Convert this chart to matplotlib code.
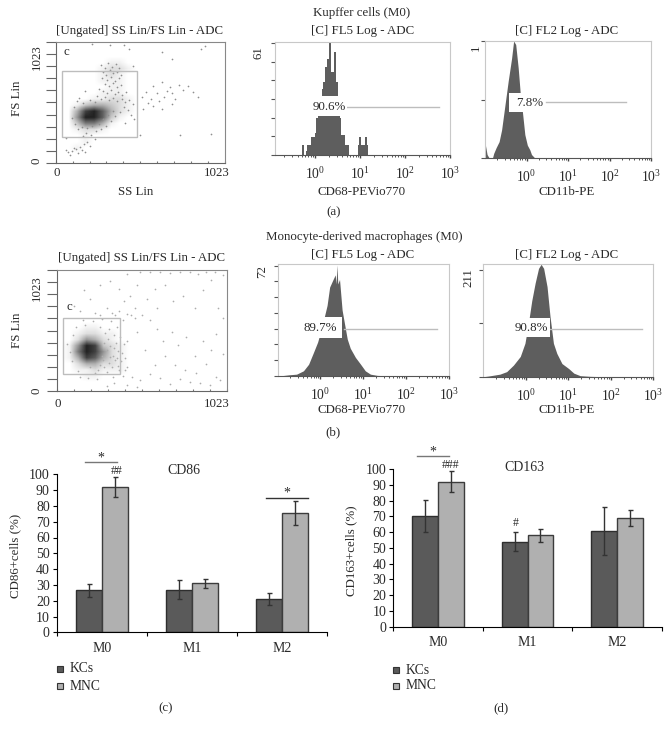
import matplotlib
matplotlib.use("Agg")
import matplotlib.pyplot as plt
from matplotlib.patches import Rectangle
from matplotlib.ticker import LogLocator, NullFormatter
import numpy as np

plt.rcParams['font.family'] = ['Liberation Serif', 'DejaVu Serif']
plt.rcParams['mathtext.fontset'] = 'stix'

W = 670
H = 734

# dot plots: density read per cell (bottom row first, 20 x 20 cells over 0-1023)
kc_density = [
    [0,0,0,0,0,0,0,0,0,0,0,0,0,0,0,0,0,0,0,0],
    [0,0,0,0,0,0,0,0,0,0,0,0,0,0,0,0,0,0,0,0],
    [0,0,1,0,0,0,0,0,0,0,0,0,0,0,0,0,0,0,0,0],
    [0,0,0,1,0,0,0,0,0,0,0,0,0,0,0,0,0,0,0,0],
    [0,0,0,1,0,0,0,0,0,0,0,0,0,0,0,0,0,0,0,0],
    [0,0,1,2,2,1,0,0,0,0,0,0,0,0,0,0,0,0,0,0],
    [0,0,3,6,6,4,1,0,0,0,0,0,0,0,0,0,0,0,0,0],
    [0,0,5,9,9,7,3,1,0,0,0,0,0,0,0,0,0,0,0,0],
    [0,0,4,8,9,7,4,2,1,0,0,0,0,0,0,0,0,0,0,0],
    [0,0,1,3,4,4,3,2,1,0,0,0,0,0,0,0,0,0,0,0],
    [0,0,0,0,1,1,2,2,1,0,0,0,0,0,0,0,0,0,0,0],
    [0,0,0,0,0,1,1,1,0,0,0,0,0,0,0,0,0,0,0,0],
    [0,0,0,0,0,0,1,1,0,0,0,0,0,0,0,0,0,0,0,0],
    [0,0,0,0,0,1,1,1,0,0,0,0,0,0,0,0,0,0,0,0],
    [0,0,0,0,0,1,2,1,0,0,0,0,0,0,0,0,0,0,0,0],
    [0,0,0,0,0,1,2,2,1,0,0,0,0,0,0,0,0,0,0,0],
    [0,0,0,0,0,0,1,1,0,0,0,0,0,0,0,0,0,0,0,0],
    [0,0,0,0,0,0,0,0,0,0,0,0,0,0,0,0,0,0,0,0],
    [0,0,0,0,0,0,0,0,0,0,0,0,0,0,0,0,0,0,0,0],
    [0,0,0,0,0,0,0,0,0,0,0,0,0,0,0,0,0,0,0,0],
]
mono_density = [
    [0,0,0,0,0,0,0,0,0,0,0,0,0,0,0,0,0,0,0,0],
    [0,0,0,0,0,0,0,0,0,0,0,0,0,0,0,0,0,0,0,0],
    [0,0,0,1,1,0,0,0,0,0,0,0,0,0,0,0,0,0,0,0],
    [0,0,1,1,2,1,1,1,0,0,0,0,0,0,0,0,0,0,0,0],
    [0,0,2,4,4,2,2,1,0,0,0,0,0,0,0,0,0,0,0,0],
    [0,1,4,8,7,4,2,1,0,0,0,0,0,0,0,0,0,0,0,0],
    [0,1,6,9,8,5,2,1,0,0,0,0,0,0,0,0,0,0,0,0],
    [0,1,5,9,8,3,2,1,0,0,0,0,0,0,0,0,0,0,0,0],
    [0,0,2,5,4,2,1,0,0,0,0,0,0,0,0,0,0,0,0,0],
    [0,0,1,2,2,1,1,0,0,0,0,0,0,0,0,0,0,0,0,0],
    [0,0,0,1,1,0,0,0,0,0,0,0,0,0,0,0,0,0,0,0],
    [0,0,0,0,0,0,0,0,0,0,0,0,0,0,0,0,0,0,0,0],
    [0,0,0,0,0,0,0,0,0,0,0,0,0,0,0,0,0,0,0,0],
    [0,0,0,0,0,0,0,0,0,0,0,0,0,0,0,0,0,0,0,0],
    [0,0,0,0,0,0,0,0,0,0,0,0,0,0,0,0,0,0,0,0],
    [0,0,0,0,0,0,0,0,0,0,0,0,0,0,0,0,0,0,0,0],
    [0,0,0,0,0,0,0,0,0,0,0,0,0,0,0,0,0,0,0,0],
    [0,0,0,0,0,0,0,0,0,0,0,0,0,0,0,0,0,0,0,0],
    [0,0,0,0,0,0,0,0,0,0,0,0,0,0,0,0,0,0,0,0],
    [0,0,0,0,0,0,0,0,0,0,0,0,0,0,0,0,0,0,0,0],
]

# single events seen outside the dense part
kc_events = [
    (275,830),(296,802),(318,846),(341,812),(362,835),(384,798),(288,770),(305,742),(327,781),(349,756),
    (371,772),(392,745),(280,715),(312,702),(336,728),(358,695),(381,718),(299,668),(322,651),(346,676),
    (368,642),(395,660),(262,622),(288,606),(311,592),(337,618),(356,584),(379,604),(402,573),(425,598),
    (248,566),(271,545),(296,558),(324,533),(349,549),(372,524),(398,541),(421,515),(445,536),(468,498),
    (412,470),(436,452),(389,428),(452,405),(476,372),(418,338),(361,395),(336,352),(304,318),(276,291),
    (246,268),(212,240),(186,258),(163,226),(238,204),(192,182),(170,160),(206,146),(148,134),(122,118),
    (96,102),(74,92),(60,108),(134,86),(158,112),(108,128),(88,74),(178,96),(520,560),(545,600),
    (560,510),(590,650),(610,590),(625,520),(640,680),(655,560),(670,610),(690,640),(705,590),(720,540),
    (745,660),(770,620),(800,650),(830,600),(860,560),(590,480),(640,455),(700,500),(530,455),(575,545),
    (905,990),(880,960),(940,250),(750,240),(640,940),(700,880),(470,820),(440,960),(415,995),(330,995),
    (220,1000),(510,240),(180,610),(60,210),(130,520),(112,470),(142,548),(165,505),(238,512),(210,535),
    (118,330),(135,288),(160,305),(190,296),(100,380),(222,310),(262,330),(288,372),(314,410),(345,440),
]
mono_events = [
    (60,400),(75,330),(88,250),(96,470),(112,540),(128,170),(140,120),(155,600),(170,560),(185,110),
    (198,205),(214,590),(228,150),(240,100),(256,545),(270,610),(285,205),(298,160),(310,520),(322,590),
    (335,115),(345,470),(360,540),(372,180),(385,250),(395,130),(305,440),(320,380),(338,300),(352,410),
    (366,340),(378,460),(290,490),(275,260),(260,220),(245,175),(312,240),(330,205),(350,260),(368,215),
    (300,350),(285,410),(268,300),(318,290),(342,360),(362,280),(392,320),(402,400),(410,280),(418,200),
    (395,600),(420,650),(445,640),(470,620),(330,660),(350,640),(375,680),(300,700),(260,640),(230,660),
    (400,760),(440,800),(470,700),(510,640),(560,600),(600,520),(640,420),(690,500),(730,390),(780,460),
    (830,300),(880,420),(930,350),(960,480),(1000,310),(420,420),(480,500),(530,350),(590,220),(650,300),
    (710,220),(770,180),(840,150),(900,230),(960,120),(410,180),(450,120),(500,90),(560,140),(620,110),
    (680,60),(740,100),(800,80),(860,70),(920,50),(980,90),(300,40),(340,70),(420,50),(480,30),
    (700,760),(760,800),(830,700),(880,850),(930,940),(970,700),(1000,620),(650,900),(590,860),(540,780),
    (480,900),(420,990),(500,1005),(560,1010),(620,1005),(680,995),(740,1010),(800,1005),(850,990),(900,1008),
    (950,1010),(1000,980),(160,850),(200,780),(260,900),(320,930),(370,860),(100,720),(140,680),(600,700),
]
kc_gate_x = [36, 489]
kc_gate_y = [222, 776]
mono_gate_x = [36, 381]
mono_gate_y = [144, 620]

# histograms (log10 of the signal, event count)
kc_fl5_log = [-.32,-.28,-.24,-.20,-.16,-.12,-.08,-.04,0,.04,.08,.12,.16,.20,.24,.28,.32,.36,.40,.44,.48,.52,.56,.60,.64,.68,.72,.76,.80,.84,.88,.92,.96,1.0,1.04,1.08,1.12,1.16,1.20]
kc_fl5_cnt = [0,5.4,0,2,5.4,5.4,10,10,12,20,28,32,36,40,48,52,61,45,45,56,40,32,20,11,11,5.4,5.4,0,0,0,0,0,5.4,10,5.4,5.4,10,5.4,0]
kc_fl2_log = [-1.0,-.99,-.95,-.90,-.82,-.79,-.73,-.66,-.60,-.52,-.44,-.36,-.31,-.26,-.20,-.15,-.10,-.04,.02,.08,.12,.20]
kc_fl2_cnt = [0,.11,.03,0,0,.04,.09,.14,.24,.45,.66,.85,1.0,.97,.77,.55,.40,.20,.11,.07,.03,0]
mono_fl5_log = [-.90,-.72,-.55,-.39,-.27,-.16,-.06,.04,.16,.22,.30,.35,.37,.39,.41,.45,.51,.56,.63,.70,.82,.94,1.05,1.17,1.33,1.5]
mono_fl5_cnt = [0,.6,1,3.2,7.5,15,22,32,46,58,63,66,60,72.5,60,63,43,35,24,18,12,7.5,3.2,1,.2,0]
mono_fl2_log = [-1.0,-.88,-.61,-.45,-.29,-.13,-.02,.06,.14,.22,.30,.36,.42,.50,.57,.65,.73,.85,1.01,1.13,1.28,1.52,1.8]
mono_fl2_cnt = [0,1.3,5,10,23,40,66,105,150,185,214,222,214,178,119,66,46,26,16,7,2,.7,0]

# bar charts
groups = ["M0", "M1", "M2"]
cd86_kc = [26.5, 27, 21]
cd86_mnc = [92, 31, 75.5]
cd86_kc_err = [4.2, 6, 3.7]
cd86_mnc_err = [6.5, 2.8, 7.3]
cd163_kc = [70.3, 54, 60.5]
cd163_mnc = [92, 58, 69]
cd163_kc_err = [10, 6, 15.2]
cd163_mnc_err = [6.5, 4.2, 4.9]

DARK = '#5a5a5a'
LIGHT = '#b0b0b0'
TXT = '#2a2a2a'
FS = 9.3

fig = plt.figure(figsize=(W / 100, H / 100), dpi=100)


def ax_px(l, t, r, b):
    return fig.add_axes([l / W, 1 - b / H, (r - l) / W, (b - t) / H])


def txt(x, y, s, size=FS, rot=0):
    fig.text(x / W, 1 - y / H, s, ha='center', va='center', fontsize=size,
             rotation=rot, color=TXT, zorder=6)


def dot_plot(box, density, events, gate_x, gate_y, dot_color):
    ax = ax_px(*box)
    ax.imshow(np.array(density) ** 1.25, origin='lower', extent=[0, 1023, 0, 1023], aspect='auto',
              cmap='gray_r', vmin=0, vmax=18, interpolation='bilinear')
    ss, fs = zip(*events)
    ax.scatter(ss, fs, s=1.5, color=dot_color, linewidths=0)
    ax.add_patch(Rectangle((gate_x[0], gate_y[0]), gate_x[1] - gate_x[0], gate_y[1] - gate_y[0],
                           fill=False, ec='#bdbdbd', lw=1))
    ax.set_xlim(0, 1023)
    ax.set_ylim(0, 1023)
    ticks = [i * 102.3 for i in range(11)]
    ax.set_xticks(ticks)
    ax.set_yticks(ticks)
    ax.set_xticklabels([])
    ax.set_yticklabels([])
    ax.tick_params(axis='y', length=7, width=.8, color='#666666')
    ax.tick_params(axis='x', direction='in', length=1.5, width=.8, color='#777777')
    for s in ['left', 'bottom']:
        ax.spines[s].set_color('#666666')
    for s in ['top', 'right']:
        ax.spines[s].set_color('#888888')
    return ax


def hist_plot(box, log_vals, counts, ymax, yticks, gate_log, gate_y, xleft, step=None):
    ax = ax_px(*box)
    ax.fill_between([10 ** v for v in log_vals], counts, 0, color='#5e5e5e', lw=0, step=step)
    ax.plot([10 ** gate_log[0], 10 ** gate_log[1]], [gate_y, gate_y], color='#bdbdbd', lw=1)
    ax.set_xscale('log')
    ax.set_xlim(10 ** xleft, 1000)
    ax.set_ylim(0, ymax)
    ax.set_xticks([1, 10, 100, 1000])
    ax.xaxis.set_minor_locator(LogLocator(base=10, subs=range(2, 10), numticks=12))
    ax.xaxis.set_minor_formatter(NullFormatter())
    ax.set_yticks(yticks)
    ax.set_yticklabels([])
    ax.tick_params(axis='x', which='major', length=2, width=1, color='#444444', labelsize=FS + .5,
                   labelcolor=TXT, pad=6)
    ax.tick_params(axis='x', which='minor', length=1.5, width=.7, color='#555555')
    ax.tick_params(axis='y', length=3, width=.8, color='#555555')
    ax.spines['bottom'].set_color('#555555')
    for s in ['top', 'right', 'left']:
        ax.spines[s].set_color('#c8c8c8')
    return ax


def white_box(x1, y1, x2, y2):
    fig.add_artist(Rectangle((x1 / W, 1 - y2 / H), (x2 - x1) / W, (y2 - y1) / H,
                             transform=fig.transFigure, fc='white', ec='none', zorder=5))


def bar_plot(box, kc, mnc, kc_err, mnc_err, ylabel, ylabel_x):
    ax = ax_px(*box)
    pos = np.arange(len(groups)) + .5
    width = .29
    ekw = dict(ecolor='#333333', elinewidth=1, capsize=1.8, capthick=1)
    ax.bar(pos - width / 2, kc, width, color=DARK, edgecolor='#2e2e2e', lw=1, yerr=kc_err, error_kw=ekw)
    ax.bar(pos + width / 2, mnc, width, color=LIGHT, edgecolor='#3c3c3c', lw=1, yerr=mnc_err, error_kw=ekw)
    ax.set_xlim(0, 3)
    ax.set_ylim(0, 100)
    ax.set_yticks(range(0, 101, 10))
    ax.set_xticks([0, 1, 2, 3])
    ax.set_xticklabels([])
    ax.set_xticks(pos, minor=True)
    ax.set_xticklabels(groups, minor=True)
    ax.tick_params(axis='x', which='minor', length=0, labelsize=10, pad=7, labelcolor=TXT)
    ax.tick_params(axis='x', which='major', length=3, width=.8)
    ax.tick_params(axis='y', length=3, width=.8, labelsize=10, labelcolor=TXT, pad=2)
    ax.spines['top'].set_visible(False)
    ax.spines['right'].set_visible(False)
    txt(ylabel_x, (box[1] + box[3]) / 2 + 3, ylabel, rot=90)
    return ax


def legend_px(x, y1, y2, text_x):
    for y, c, s in [(y1, DARK, "KCs"), (y2, LIGHT, "MNC")]:
        fig.add_artist(Rectangle(((x - 3) / W, 1 - (y + 3) / H), 6 / W, 6 / H, transform=fig.transFigure,
                                 fc=c, ec='#333333', lw=.8))
        fig.text(text_x / W, 1 - y / H, s, ha='left', va='center', fontsize=9.8, color=TXT)


# row (a)
dot_plot((55.7, 41.7, 225, 163.3), kc_density, kc_events, kc_gate_x, kc_gate_y, '#8f8f8f')
txt(140, 31, "[Ungated] SS Lin/FS Lin - ADC")
txt(17, 98, "FS Lin", rot=90)
txt(136, 192, "SS Lin")
txt(66, 52, "c")
txt(57, 173, "0")
txt(217, 173, "1023")
txt(37, 161, "0", rot=90)
txt(37, 57, "1023", rot=90)

hist_plot((275, 42, 450, 155), kc_fl5_log, kc_fl5_cnt, 61.5, [i * 61 / 6 for i in range(7)],
          [.71, 2.75], 26, -.9, step='mid')
white_box(311.5, 96, 346.5, 115.5)
txt(329, 107, "90.6%")
txt(362, 13, "Kupffer cells (M0)")
txt(363, 31, "[C] FL5 Log - ADC")
txt(258, 53, "61", rot=90)
txt(362, 192, "CD68-PEVio770")

hist_plot((485, 41, 651, 158), kc_fl2_log, kc_fl2_cnt, 1, [0, .5, 1], [.48, 2.40], .48, -1.0)
white_box(509, 93, 541, 112)
txt(530, 103, "7.8%")
txt(567, 31, "[C] FL2 Log - ADC")
txt(476, 48, "1", rot=90)
txt(567, 192, "CD11b-PE")
txt(334, 212, "(a)")

# row (b)
dot_plot((57.3, 270, 226.7, 391), mono_density, mono_events, mono_gate_x, mono_gate_y, '#adadad')
txt(141, 258, "[Ungated] SS Lin/FS Lin - ADC")
txt(17, 330, "FS Lin", rot=90)
txt(69, 307, "c")
txt(58, 404, "0")
txt(217, 404, "1023")
txt(37, 391, "0", rot=90)
txt(37, 288, "1023", rot=90)

hist_plot((277.7, 264.3, 449, 375.7), mono_fl5_log, mono_fl5_cnt, 72.9, [i * 72 / 7 for i in range(8)],
          [.55, 2.73], 30.8, -.99)
white_box(301.5, 317.5, 342, 338.5)
txt(320, 328, "89.7%")
txt(364, 237, "Monocyte-derived macrophages (M0)")
txt(363, 255, "[C] FL5 Log - ADC")
txt(262, 272, "72", rot=90)
txt(362, 410, "CD68-PEVio770")

hist_plot((483.3, 264.3, 653.3, 376.7), mono_fl2_log, mono_fl2_cnt, 222, [0, 105.5, 211],
          [.57, 2.74], 94, -1.0)
white_box(513, 317.5, 550, 336.5)
txt(531, 328, "90.8%")
txt(567, 255, "[C] FL2 Log - ADC")
txt(468, 278, "211", rot=90)
txt(567, 410, "CD11b-PE")
txt(333, 432, "(b)")

# row (c) (d)
bar_plot((56.7, 474.3, 327, 632.3), cd86_kc, cd86_mnc, cd86_kc_err, cd86_mnc_err, "CD86+cells (%)", 15)
txt(184, 470, "CD86", size=10)
fig.add_artist(plt.Line2D([84.7 / W, 117.3 / W], [1 - 462.3 / H] * 2, color='#777777', lw=1))
txt(100.5, 458.5, "*", size=10)
txt(116.5, 471, "##", size=8.5)
fig.add_artist(plt.Line2D([266 / W, 308.3 / W], [1 - 498 / H] * 2, color='#333333', lw=1))
txt(286.5, 493, "*", size=10)
legend_px(59.5, 669, 686, 70)
txt(166, 708, "(c)")

bar_plot((393.3, 469, 661.7, 626.7), cd163_kc, cd163_mnc, cd163_kc_err, cd163_mnc_err, "CD163+cells (%)", 351)
txt(524.5, 467.5, "CD163", size=10)
fig.add_artist(plt.Line2D([416.7 / W, 449 / W], [1 - 455.7 / H] * 2, color='#777777', lw=1))
txt(432.5, 452, "*", size=10)
txt(451, 465.5, "###", size=8.5)
txt(516, 523, "#", size=8.5)
legend_px(395.7, 670, 685.7, 406)
txt(501.5, 708, "(d)")

fig.savefig("out.png", dpi=100, facecolor='white')
